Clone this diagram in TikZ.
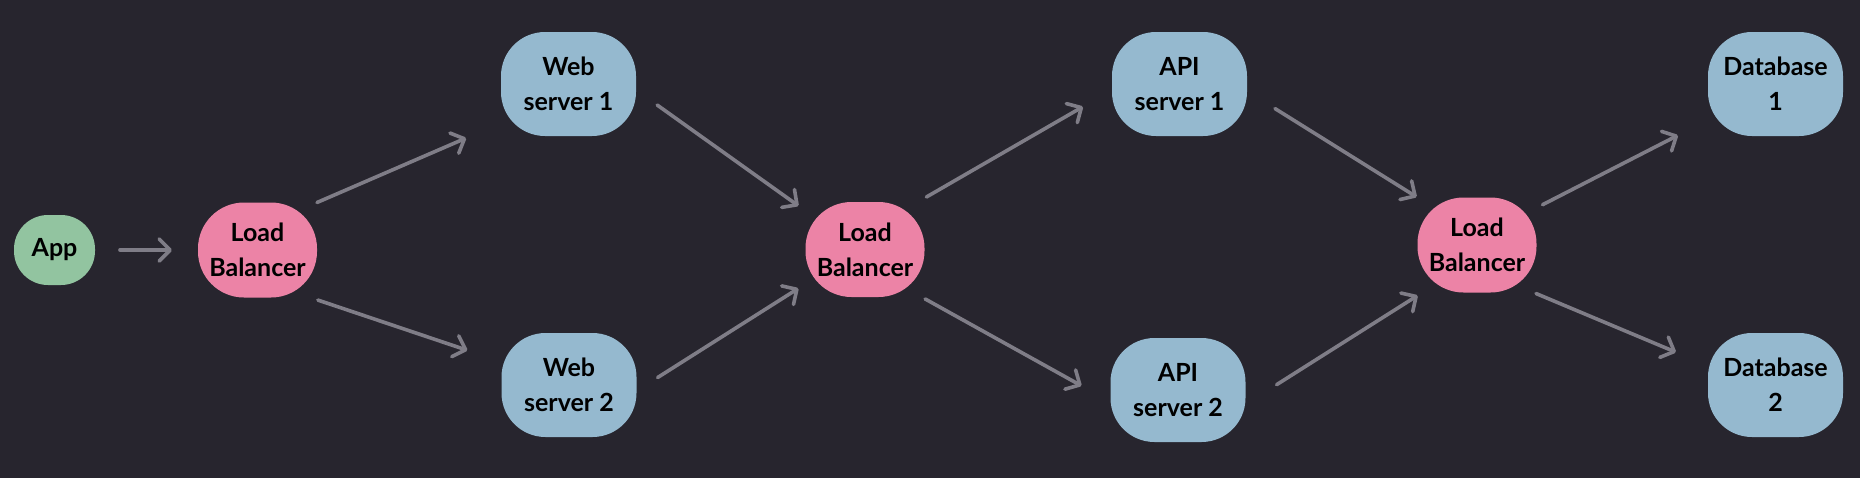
\documentclass[tikz,border=0pt]{standalone}
\usepackage{fontspec}
\setmainfont{Lato}
\usetikzlibrary{arrows.meta}
\definecolor{bg}{HTML}{27252E}
\definecolor{appgreen}{HTML}{92C4A0}
\definecolor{lbpink}{HTML}{EC83A6}
\definecolor{srvblue}{HTML}{95B9CF}
\definecolor{arrowgray}{HTML}{7F7D87}
\begin{document}
\begin{tikzpicture}[x=0.5pt,y=-0.5pt,
  box/.style={draw=none, outer sep=0pt, inner sep=0pt, align=center,
    font=\bfseries\fontsize{12.5}{17.5}\selectfont, text=black},
  appbox/.style={box, fill=appgreen, minimum width=40.5pt, minimum height=35pt, rounded corners=17pt},
  lbbox/.style={box, fill=lbpink, minimum width=59.5pt, minimum height=47.5pt, rounded corners=23pt},
  srvbox/.style={box, fill=srvblue, minimum width=67.5pt, minimum height=52pt, rounded corners=22pt},
  arr/.style={draw=arrowgray, line width=1.8pt, line cap=round,
    -{Straight Barb[length=5.5pt,width=11pt,round]}}]
\fill[bg] (0,0) rectangle (1860,478);
\node[appbox] (app) at (54.5,250) {App};
\node[lbbox] (lb1) at (257.5,250) {Load\\Balancer};
\node[srvbox] (web1) at (568.5,84) {Web\\server 1};
\node[srvbox] (web2) at (569,385) {Web\\server 2};
\node[lbbox] (lb2) at (865,249.5) {Load\\Balancer};
\node[srvbox] (api1) at (1179.5,84) {API\\server 1};
\node[srvbox] (api2) at (1178,390) {API\\server 2};
\node[lbbox] (lb3) at (1477,245) {Load\\Balancer};
\node[srvbox] (db1) at (1775.5,84) {Database\\1};
\node[srvbox] (db2) at (1775.5,385) {Database\\2};

\draw[arr, shorten <=12.5pt, shorten >=13pt] (app.east) -- (lb1.west);
\draw[arr, shorten >=19pt] (lb1.north east) -- (web1.210);
\draw[arr, shorten <=4pt, shorten >=18pt] (lb1.-42) -- (web2.161);
\draw[arr, shorten <=13pt, shorten >=4.3pt] (web1.-5) -- (lb2.147);
\draw[arr, shorten <=12.5pt, shorten >=4.2pt] (web2.-5) -- (lb2.-150);
\draw[arr, shorten <=5pt, shorten >=16.8pt] (lb2.42) -- (api1.-175);
\draw[arr, shorten <=2pt, shorten >=16.6pt] (lb2.-40) -- (api2.-170);
\draw[arr, shorten <=16.5pt, shorten >=0.5pt] (api1.-6) -- (lb3.north west);
\draw[arr, shorten <=18.4pt, shorten >=2.8pt] (api2.-12) -- (lb3.-139);
\draw[arr, shorten <=3.4pt, shorten >=16.9pt] (lb3.32) -- (db1.-152);
\draw[arr, shorten <=1.3pt, shorten >=17.4pt] (lb3.-40) -- (db2.164);
\end{tikzpicture}
\end{document}
